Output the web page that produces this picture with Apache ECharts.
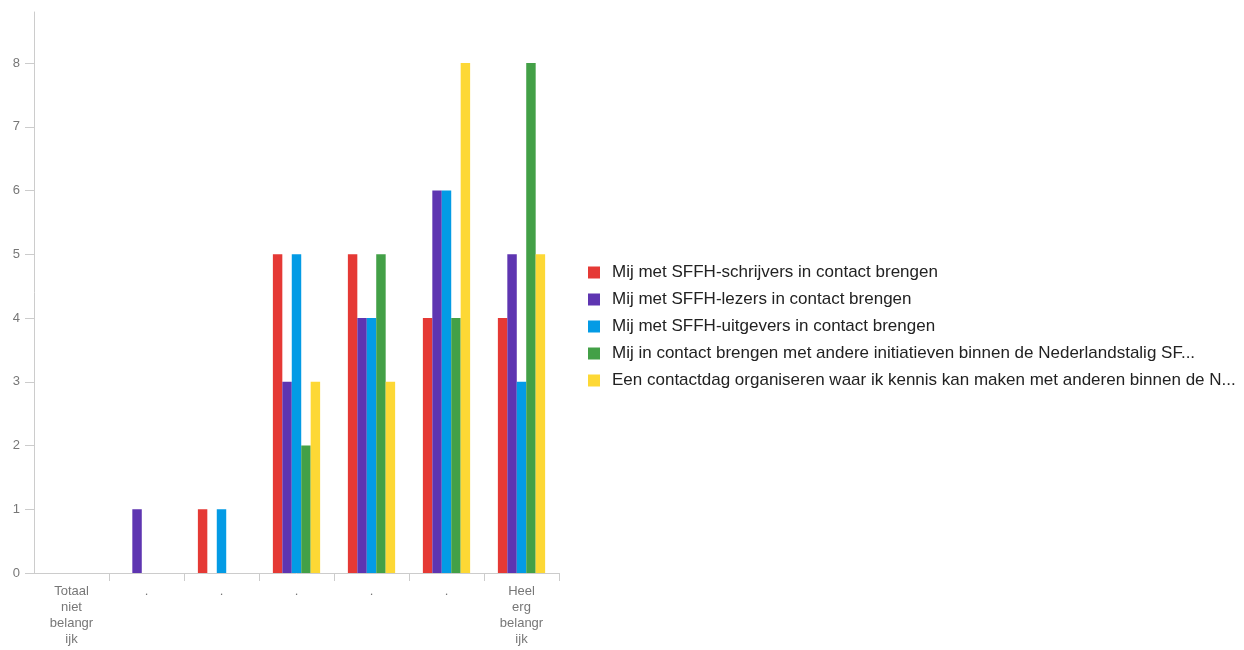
<!DOCTYPE html>
<html><head><meta charset="utf-8">
<script src="https://cdn.jsdelivr.net/npm/echarts@6/dist/echarts.min.js"></script>
<style>html,body{margin:0;padding:0;background:#fff}#c{width:1244px;height:650px}</style>
</head><body><div id="c"></div>
<script>
const categories = ["Totaal\nniet\nbelangr\nijk", ".", ".", ".", ".", ".", "Heel\nerg\nbelangr\nijk"];
const seriesNames = [
  "Mij met SFFH-schrijvers in contact brengen",
  "Mij met SFFH-lezers in contact brengen",
  "Mij met SFFH-uitgevers in contact brengen",
  "Mij in contact brengen met andere initiatieven binnen de Nederlandstalig SF...",
  "Een contactdag organiseren waar ik kennis kan maken met anderen binnen de N..."
];
const schrijvers = [0, 0, 1, 5, 5, 4, 4];
const lezers     = [0, 1, 0, 3, 4, 6, 5];
const uitgevers  = [0, 0, 1, 5, 4, 6, 3];
const initiatieven = [0, 0, 0, 2, 5, 4, 8];
const contactdag = [0, 0, 0, 3, 3, 8, 5];
const yTicks = [0, 1, 2, 3, 4, 5, 6, 7, 8];
const colors = ["#e53935", "#5e35b1", "#039be5", "#43a047", "#fdd835"];
const values = [schrijvers, lezers, uitgevers, initiatieven, contactdag];

const chart = echarts.init(document.getElementById('c'));
chart.setOption({
  animation: false,
  color: colors,
  grid: { left: 34, right: 685, top: 12, bottom: 77, containLabel: false },
  legend: {
    orient: 'vertical', left: 583, top: 259,
    itemWidth: 12, itemHeight: 12, itemGap: 10,
    icon: 'rect',
    textStyle: { fontFamily: 'Liberation Sans, Arial', fontSize: 17, color: '#222', padding: [0, 0, 0, 7] },
    data: seriesNames
  },
  xAxis: {
    type: 'category', data: categories,
    axisLine: { lineStyle: { color: '#ccc' } },
    axisTick: { show: true, length: 8, lineStyle: { color: '#ccc' }, interval: function (i) { return i > 0 && i < categories.length; } },
    axisLabel: { color: '#777', fontFamily: 'Liberation Sans, Arial', fontSize: 13, lineHeight: 16, margin: 10, interval: 0 }
  },
  yAxis: {
    type: 'value', min: 0, max: 8.8, interval: 1,
    splitLine: { show: false },
    axisLine: { show: true, lineStyle: { color: '#ccc' } },
    axisTick: { show: true, length: 9, lineStyle: { color: '#ccc' }, customValues: yTicks },
    axisLabel: { color: '#777', fontFamily: 'Liberation Sans, Arial', fontSize: 13, margin: 14, customValues: yTicks }
  },
  series: seriesNames.map((n, i) => ({
    name: n, type: 'bar', data: values[i],
    barGap: '0%', barCategoryGap: '37%'
  }))
});
</script></body></html>
